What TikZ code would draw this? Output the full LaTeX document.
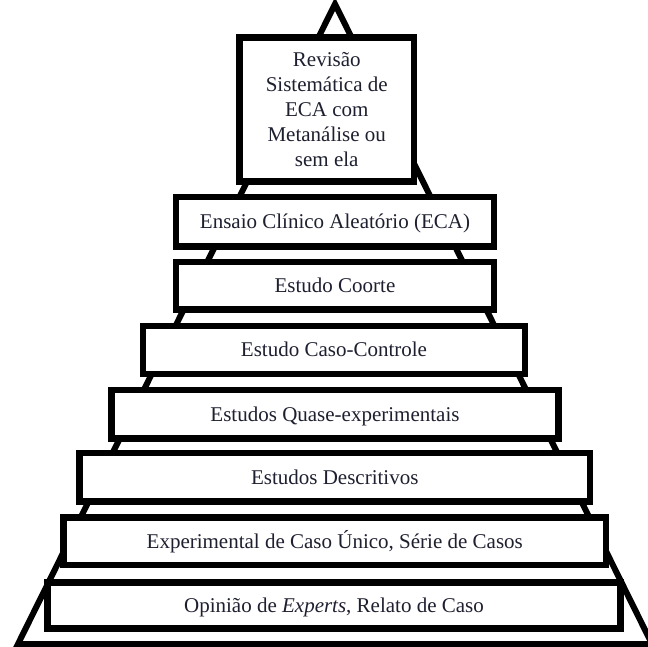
\documentclass[tikz,border=0pt]{standalone}
\usepackage{fontspec}
\setmainfont{Liberation Serif}
\definecolor{txtcol}{RGB}{30,32,48}
\begin{document}
\begin{tikzpicture}[x=1pt,y=-1pt,
  lvl/.style={draw=black, line width=6.5pt, fill=white, inner sep=0pt,
    text=txtcol, font=\fontsize{21}{25}\selectfont,
    text height=15pt, text depth=1.5pt},
  topbox/.style={draw=black, line width=6.5pt, fill=white, inner sep=0pt,
    text=txtcol, font=\fontsize{21}{25}\selectfont, align=center},
  pyr/.style={draw=black, line width=6pt, line join=miter, fill=white}]
\useasboundingbox (0,0) rectangle (648,647);
% pyramid
\coordinate (apex) at (335,4);
\coordinate (bl) at (18,644);
\coordinate (br) at (652,644);
\draw[pyr] (apex) -- (bl) -- (br) -- cycle;
% levels
\node[topbox, minimum width=174.5pt, minimum height=144pt] (l1) at (326.75,109.5)
  {Revisão\\Sistemática de\\ECA com\\Metanálise ou\\sem ela};
\node[lvl, minimum width=318pt, minimum height=49.5pt] (l2) at (335,221.75)
  {Ensaio Clínico Aleatório (ECA)};
\node[lvl, minimum width=318pt, minimum height=47.5pt] (l3) at (335,285.75)
  {Estudo Coorte};
\node[lvl, minimum width=382pt, minimum height=48pt] (l4) at (334,350)
  {Estudo Caso-Controle};
\node[lvl, minimum width=447pt, minimum height=48.5pt] (l5) at (335,414.25)
  {Estudos Quase-experimentais};
\node[lvl, minimum width=510.5pt, minimum height=48.5pt] (l6) at (334.75,477.25)
  {Estudos Descritivos};
\node[lvl, minimum width=542.5pt, minimum height=47.5pt] (l7) at (334.75,541.25)
  {Experimental de Caso Único, Série de Casos};
\node[lvl, minimum width=573pt, minimum height=46pt] (l8) at (334,605.5)
  {Opinião de \textit{Experts}, Relato de Caso};
\end{tikzpicture}
\end{document}
